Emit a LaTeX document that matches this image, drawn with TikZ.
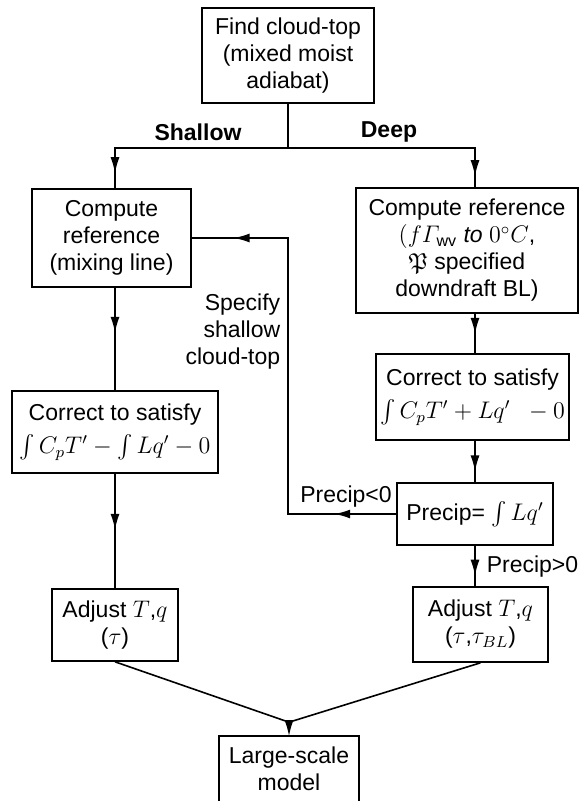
\documentclass[tikz,border=0pt]{standalone}
\usepackage{amsmath,amssymb}
\usepackage{fontspec}
\setmainfont{Liberation Sans}
\usetikzlibrary{arrows.meta,decorations.markings}
\tikzset{
  box/.style={draw,line width=0.8pt,align=center,inner sep=0pt},
  arrowat/.style={postaction={decorate,decoration={markings,
      mark=at position #1 with {\arrow{Latex[length=8pt,width=4.5pt]}}}}},
}
\begin{document}
\begin{tikzpicture}[x=0.5pt,y=-0.5pt,line width=0.8pt,font=\fontsize{11.5}{13.5}\selectfont]
  \useasboundingbox (0,0) rectangle (581,801);
  % boxes
  \node[box,minimum width=86pt,minimum height=47.5pt] (top) at (288,55.5)
    {Find cloud-top\\(mixed moist\\adiabat)};
  \node[box,minimum width=79.5pt,minimum height=49pt] (lcomp) at (111.5,238)
    {Compute\\reference\\(mixing line)};
  \node[box,minimum width=111pt,minimum height=62.5pt] (rcomp) at (467,250.5)
    {Compute reference\\$(f\varGamma_{\mathrm{wv}}$ \textit{to} $0^{\circ}C$,\\$\mathfrak{P}$ specified\\downdraft BL)};
  \node[box,minimum width=103pt,minimum height=41pt] (lcorr) at (115,432)
    {Correct to satisfy\\[3pt]$\int C_pT'-\int Lq'-0$};
  \node[box,minimum width=96.5pt,minimum height=43pt] (rcorr) at (472.5,397)
    {Correct to satisfy\\[3pt]$\int C_pT'+Lq'\;\;-0$};
  \node[box,minimum width=78pt,minimum height=31pt] (precip) at (475,514)
    {Precip= $\int Lq'$};
  \node[box,minimum width=63pt,minimum height=36pt] (ladj) at (115,625)
    {Adjust $T$,$q$\\($\tau$)};
  \node[box,minimum width=67.5pt,minimum height=37.5pt] (radj) at (480.5,624.5)
    {Adjust $T$,$q$\\($\tau$,$\tau_{BL}$)};
  \node[align=center,inner sep=0pt,minimum width=69pt,minimum height=32pt] (large) at (289,769)
    {Large-scale\\model};
  \draw ([yshift=-25pt]large.south west) |- (large.north) -| ([yshift=-25pt]large.south east);
  % labels
  \node[font=\fontsize{11.5}{13.5}\selectfont\bfseries] (shallow) at (198,132) {Shallow};
  \node[font=\fontsize{11.5}{13.5}\selectfont\bfseries] (deep) at (389,132) {Deep};
  \node[align=right,anchor=east,inner sep=0pt] (specify) at (281,332) {Specify\\shallow\\cloud-top};
  \node[inner sep=0pt] (neg) at (346,497) {Precip<0};
  \node[inner sep=0pt,anchor=west] (pos) at (486,567) {Precip>0};
  % connectors
  \coordinate (split) at (288,148);
  \coordinate (loop) at (precip.west -| split);
  \coordinate (merge) at ([yshift=7pt]large.north);
  \draw (top.south) -- (split);
  \draw[arrowat=-7.5pt] (split) -| (lcorr.north |- lcomp.north);
  \draw[arrowat=-5.5pt] (split) -| (precip.north |- rcomp.north);
  \draw[arrowat=0.44] (lcorr.north |- lcomp.south) -- (lcorr.north);
  \draw[arrowat=0.49] (lcorr.south) -- (ladj.north);
  \draw[arrowat=0.51] (precip.north |- rcomp.south) -- (precip.north |- rcorr.north);
  \draw[arrowat=0.74] (precip.north |- rcorr.south) -- (precip.north);
  \draw[arrowat=0.74] (precip.south) -- (precip.south |- radj.north);
  \draw[arrowat=0.129,arrowat=0.913] (precip.west) -- (loop) |- (lcomp.east);
  \draw (ladj.south) -- (merge);
  \draw (radj.south) -- (merge);
  \draw[-{Latex[length=8pt,width=4.5pt]}] (merge) -- (large.north);
\end{tikzpicture}
\end{document}
